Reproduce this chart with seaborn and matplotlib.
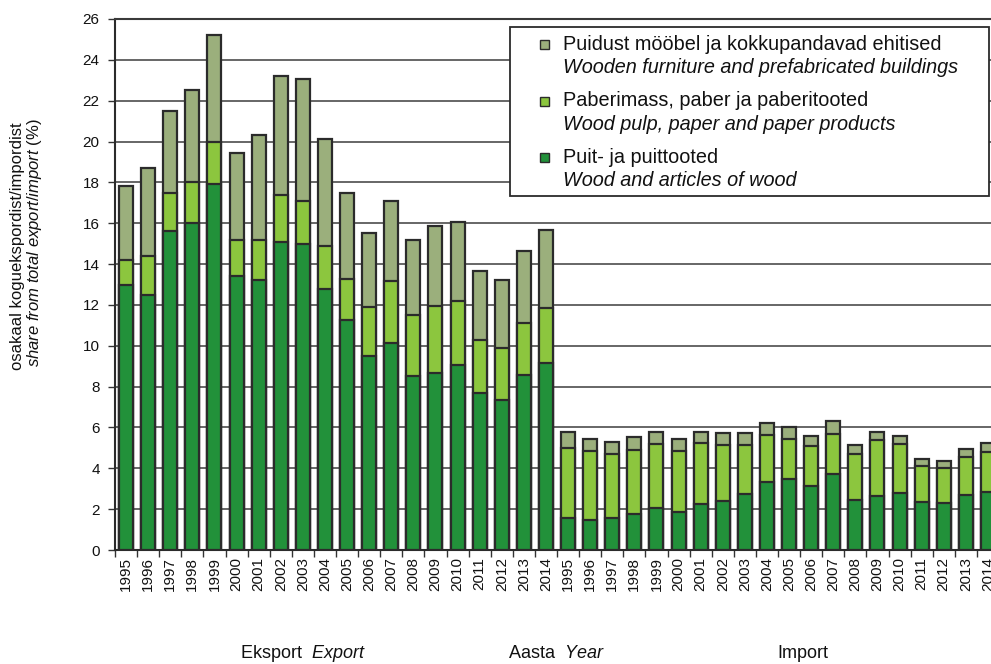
import numpy as np
import pandas as pd
import matplotlib
matplotlib.use("Agg")
import matplotlib.pyplot as plt
from matplotlib.patches import Rectangle
import seaborn as sns

# ---------------- data ----------------
years = [str(y) for y in range(1995, 2015)]

# Export shares (%)
exp_wood = [13.0, 12.5, 15.6, 16.0, 17.9, 13.4, 13.2, 15.1, 15.0, 12.8,
            11.25, 9.5, 10.15, 8.5, 8.65, 9.05, 7.7, 7.35, 8.55, 9.15]
exp_paper = [1.2, 1.9, 1.9, 2.0, 2.1, 1.8, 2.0, 2.3, 2.1, 2.1,
             2.0, 2.4, 3.0, 3.0, 3.3, 3.15, 2.6, 2.55, 2.55, 2.7]
exp_furn = [3.6, 4.3, 4.0, 4.5, 5.2, 4.25, 5.1, 5.8, 5.95, 5.2,
            4.25, 3.6, 3.95, 3.7, 3.9, 3.85, 3.35, 3.3, 3.55, 3.8]

# Import shares (%)
imp_wood = [1.55, 1.46, 1.56, 1.77, 2.08, 1.84, 2.26, 2.41, 2.75, 3.33,
            3.48, 3.14, 3.71, 2.47, 2.62, 2.78, 2.34, 2.31, 2.67, 2.86]
imp_paper = [3.45, 3.37, 3.12, 3.14, 3.12, 3.01, 2.96, 2.74, 2.39, 2.31,
             1.97, 1.93, 1.98, 2.21, 2.75, 2.39, 1.76, 1.72, 1.87, 1.92]
imp_furn = [0.77, 0.62, 0.60, 0.60, 0.57, 0.58, 0.55, 0.56, 0.58, 0.56,
            0.55, 0.51, 0.65, 0.47, 0.40, 0.41, 0.36, 0.34, 0.42, 0.44]

series_labels_et = ["Puidust mööbel ja kokkupandavad ehitised",
                    "Paberimass, paber ja paberitooted",
                    "Puit- ja puittooted"]
series_labels_en = ["Wooden furniture and prefabricated buildings",
                    "Wood pulp, paper and paper products",
                    "Wood and articles of wood"]

# ---------------- style ----------------
sns.set_style("white")
plt.rcParams["font.family"] = ["Liberation Sans", "DejaVu Sans"]
plt.rcParams["mathtext.fontset"] = "custom"
plt.rcParams["mathtext.rm"] = "Liberation Sans"
plt.rcParams["mathtext.it"] = "Liberation Sans:italic"

c_furn = "#9BAF7C"
c_paper = "#8CC63E"
c_wood = "#22913A"
edge = "#2b2b2b"

# ---------------- frame ----------------
keys = ["E" + y for y in years] + ["I" + y for y in years]
wood = exp_wood + imp_wood
paper = exp_paper + imp_paper
furn = exp_furn + imp_furn
df = pd.DataFrame({"key": keys, "wood": wood, "paper": paper, "furn": furn})
df["lvl1"] = df["wood"]
df["lvl2"] = df["wood"] + df["paper"]
df["lvl3"] = df["lvl2"] + df["furn"]

W, H = 991, 664
fig = plt.figure(figsize=(W / 100, H / 100), dpi=100)
ax = fig.add_axes([115 / W, 1 - 550 / H, 884 / W, 531 / H])

bw = 0.63
for col, color in [("lvl3", c_furn), ("lvl2", c_paper), ("lvl1", c_wood)]:
    sns.barplot(data=df, x="key", y=col, order=keys, color=color, width=bw,
                edgecolor=edge, linewidth=1.6, saturation=1, ax=ax, zorder=3)

ax.set_xlim(-0.5, len(keys) - 0.5)
ax.set_ylim(0, 26)
ax.set_yticks(np.arange(0, 27, 2))
ax.yaxis.grid(True, color="#5a5a5a", linewidth=1.3, zorder=0)
ax.set_axisbelow(True)
ax.set_xlabel("")
ax.set_ylabel("")

ax.set_xticks(np.arange(len(keys)))
ax.set_xticklabels(years + years, rotation=90, fontsize=11, color="#111")
ax.tick_params(axis="x", which="major", length=0, pad=5)
ax.set_xticks(np.arange(-0.5, len(keys), 1), minor=True)
ax.tick_params(axis="x", which="minor", length=5, width=1.0, color="#333",
               direction="out", bottom=True)
ax.tick_params(axis="y", length=5, width=1.0, color="#333", direction="out",
               left=True, labelsize=11, labelcolor="#111", pad=6)

ax.spines["right"].set_visible(False)
ax.spines["top"].set_color("#3a3a3a")
ax.spines["top"].set_linewidth(1.5)
for s in ["left", "bottom"]:
    ax.spines[s].set_color("#2b2b2b")
    ax.spines[s].set_linewidth(1.5)

# ---------------- legend (manual) ----------------
def fx(px):
    return px / W

def fy(py):
    return 1 - py / H

box = Rectangle((fx(510), fy(196)), fx(989) - fx(510), (196 - 27) / H,
                transform=fig.transFigure, facecolor="white",
                edgecolor="#2b2b2b", linewidth=1.3, zorder=5)
fig.add_artist(box)
rows = [44, 101, 157]
cols = [c_furn, c_paper, c_wood]
sq = 9
for r, c, et, en in zip(rows, cols, series_labels_et, series_labels_en):
    fig.add_artist(Rectangle((fx(544 - sq / 2), fy(r + sq / 2)), sq / W, sq / H,
                             transform=fig.transFigure, facecolor=c,
                             edgecolor="#2b2b2b", linewidth=1.0, zorder=6))
    fig.text(fx(563), fy(r), et, fontsize=14.3, va="center", ha="left",
             color="#111", zorder=6)
    fig.text(fx(563), fy(r + 23.5), en, fontsize=14.3, va="center", ha="left",
             style="italic", color="#111", zorder=6)

# ---------------- axis texts ----------------
fig.text(fx(18), fy(246), "osakaal koguekspordist/impordist", rotation=90,
         fontsize=12, va="center", ha="center", color="#111")
fig.text(fx(35), fy(243), r"$\it{share\ from\ total\ export/import}$ (%)",
         rotation=90, fontsize=12, va="center", ha="center", color="#111")

fig.text(fx(240), fy(654), r"Eksport  $\it{Export}$", fontsize=13,
         va="center", ha="left", color="#111")
fig.text(fx(508), fy(654), r"Aasta  $\it{Year}$", fontsize=13,
         va="center", ha="left", color="#111")
fig.text(fx(777), fy(654), "Import", fontsize=13,
         va="center", ha="left", color="#111")

fig.savefig("out.png", dpi=100)
